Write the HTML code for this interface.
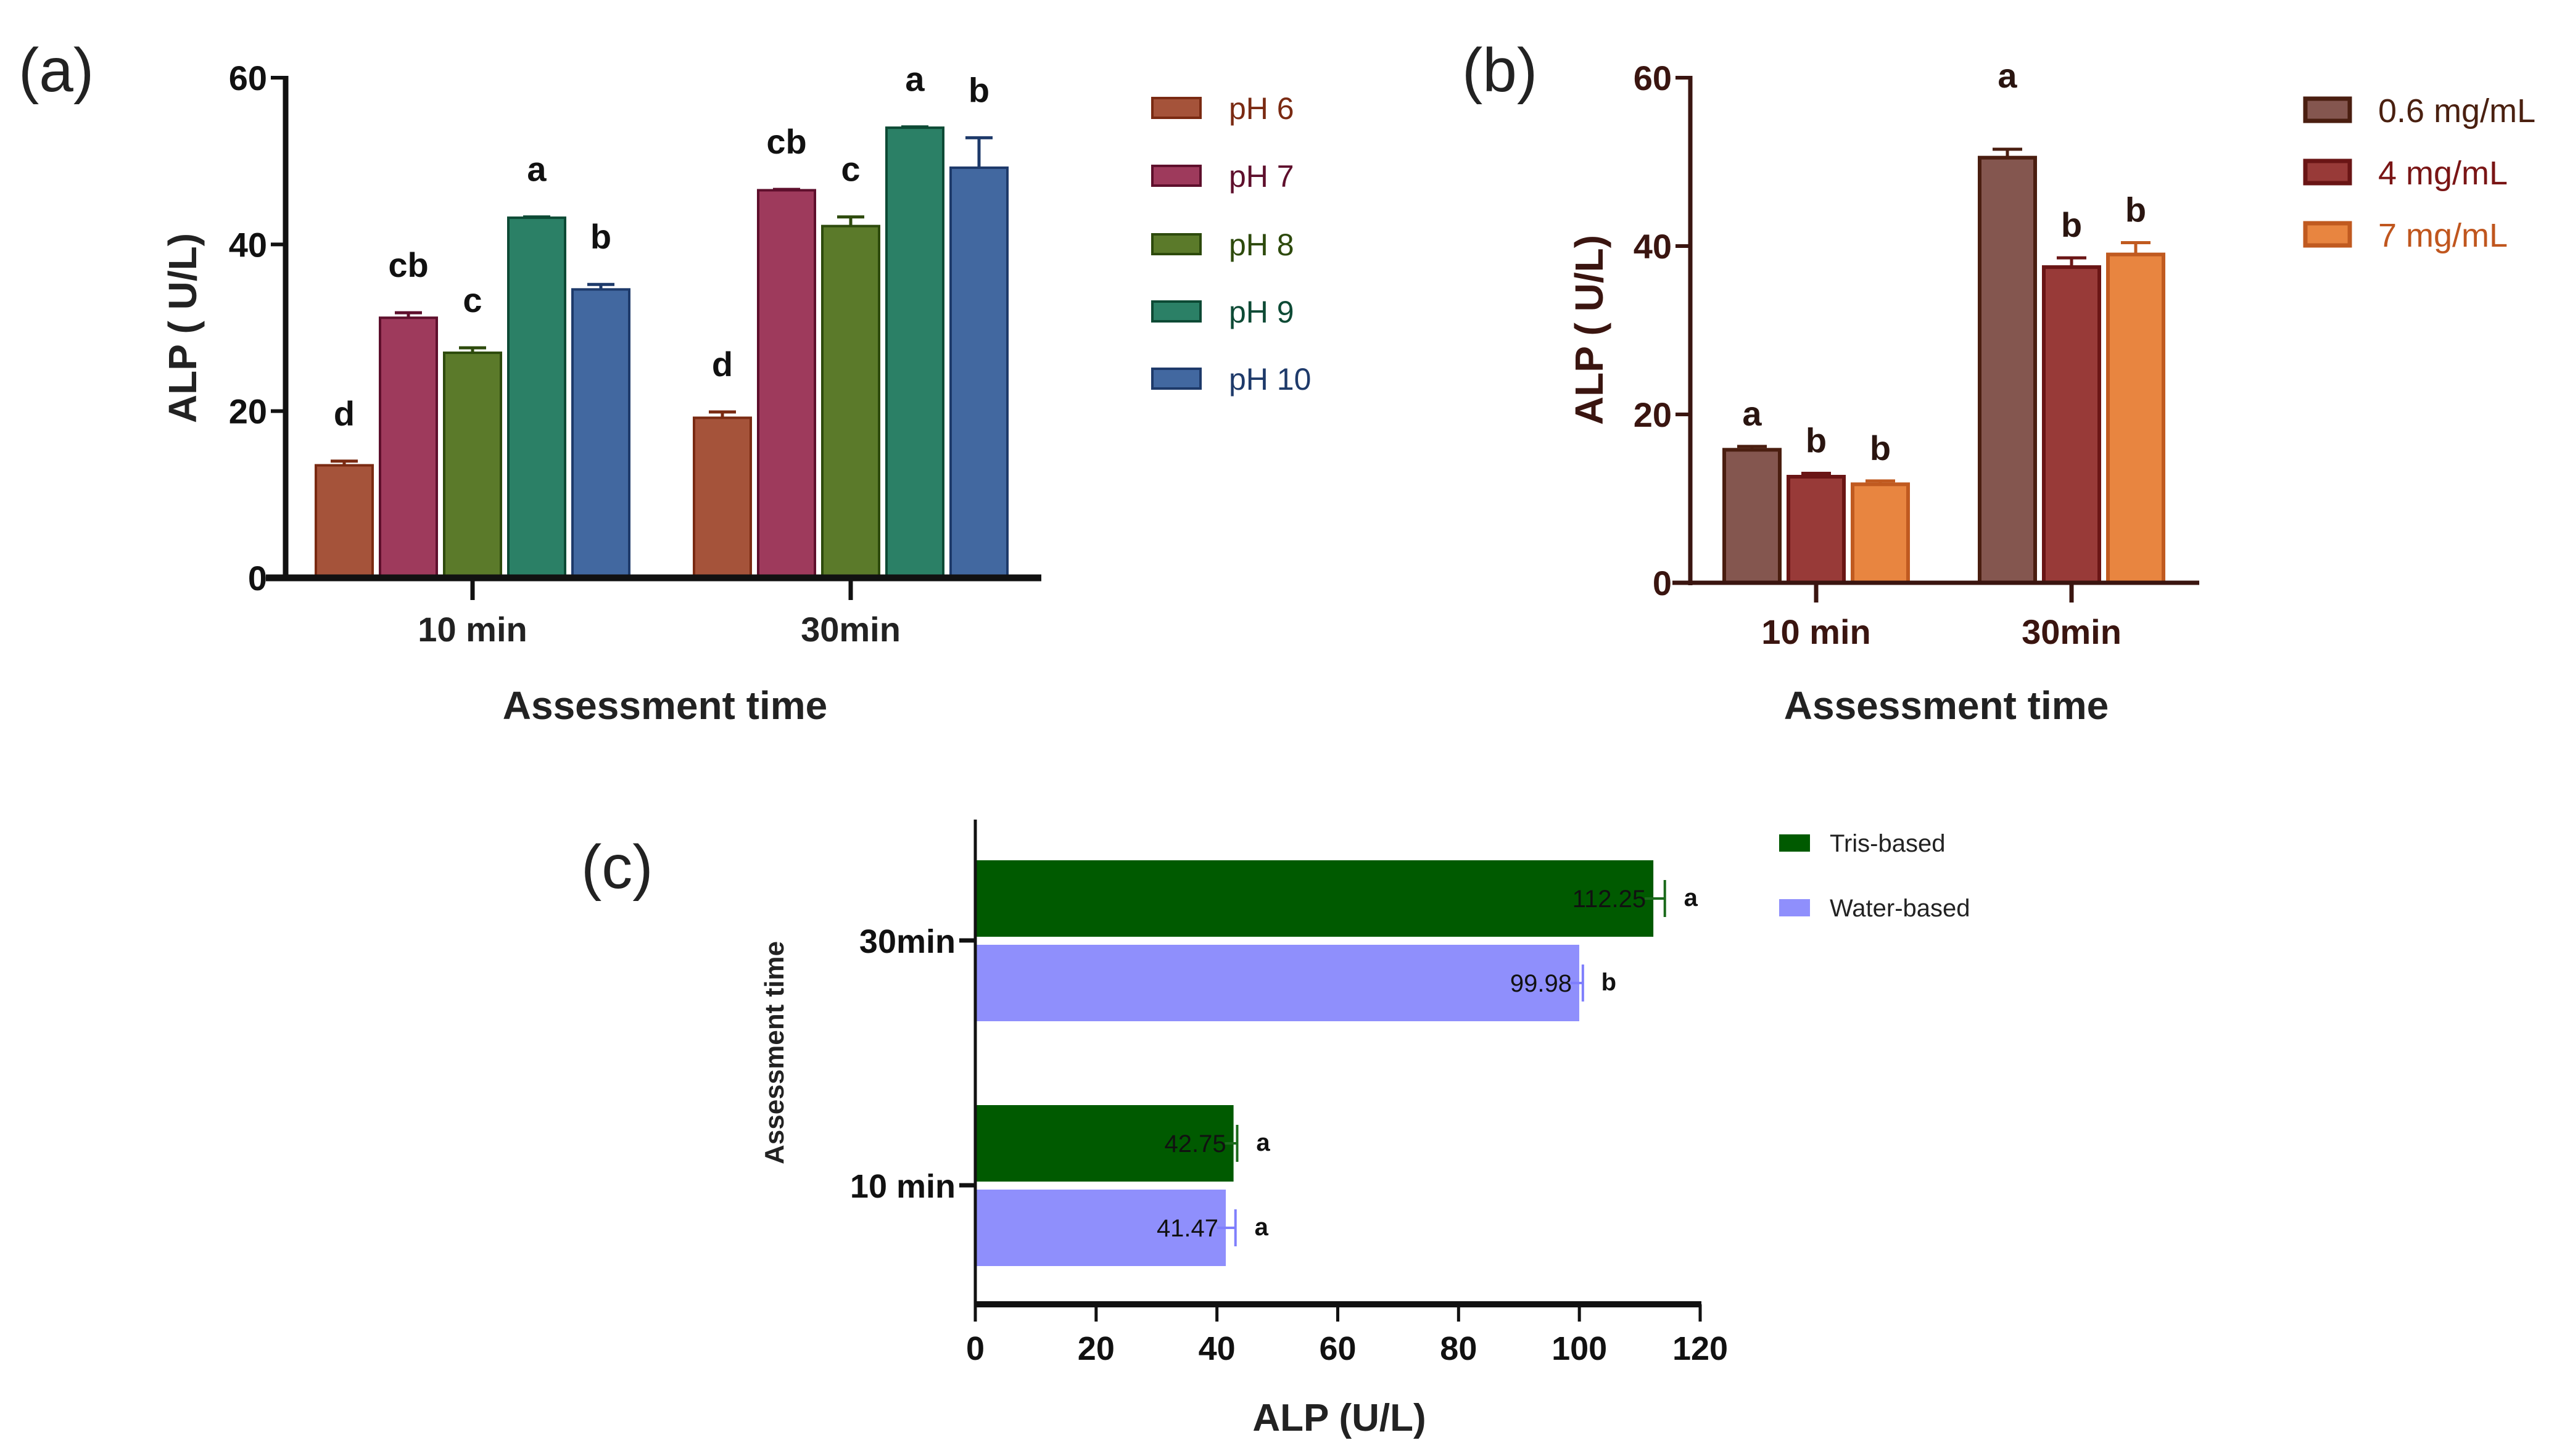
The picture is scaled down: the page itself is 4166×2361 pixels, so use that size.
<!DOCTYPE html>
<html><head><meta charset="utf-8">
<style>
html,body{margin:0;padding:0;background:#fff;}
svg{display:block;font-family:"Liberation Sans",Arial,sans-serif;}
</style></head>
<body>
<svg id="fig" width="4166" height="2361" viewBox="0 0 4166 2361" xmlns="http://www.w3.org/2000/svg">
<rect width="4166" height="2361" fill="#fff"/>
<text x="30" y="148" font-size="100" fill="#222">(a)</text>
<text x="2370" y="148" font-size="100" fill="#222">(b)</text>
<text x="942" y="1440" font-size="100" fill="#222">(c)</text>
</svg>
<script>
// ---- Panel A data ----
const aCategories = ["10 min", "30min"];
const aSeries = ["pH 6", "pH 7", "pH 8", "pH 9", "pH 10"];
const aValues10 = [13.5, 31.2, 27.0, 43.2, 34.6];
const aValues30 = [19.2, 46.5, 42.2, 54.0, 49.2];
const aErr10 = [0.5, 0.6, 0.6, 0.1, 0.6];
const aErr30 = [0.7, 0.1, 1.1, 0.1, 3.6];
const aLetters10 = ["d", "cb", "c", "a", "b"];
const aLetters30 = ["d", "cb", "c", "a", "b"];
const aTicks = [0, 20, 40, 60];
// ---- Panel B data ----
const bCategories = ["10 min", "30min"];
const bSeries = ["0.6 mg/mL", "4 mg/mL", "7 mg/mL"];
const bValues10 = [15.8, 12.6, 11.7];
const bValues30 = [50.5, 37.5, 39.0];
const bErr10 = [0.4, 0.4, 0.4];
const bErr30 = [1.0, 1.1, 1.4];
const bLetters10 = ["a", "b", "b"];
const bLetters30 = ["a", "b", "b"];
const bTicks = [0, 20, 40, 60];
// ---- Panel C data ----
const cCategories = ["30min", "10 min"];
const cSeries = ["Tris-based", "Water-based"];
const cTris = [112.25, 42.75];
const cWater = [99.98, 41.47];
const cTrisErr = [1.9, 0.6];
const cWaterErr = [0.6, 1.6];
const cTrisLetters = ["a", "a"];
const cWaterLetters = ["b", "a"];
const cTicks = [0, 20, 40, 60, 80, 100, 120];

const NS = "http://www.w3.org/2000/svg";
const svg = document.getElementById("fig");
function mk(tag, attrs, parent) {
  const e = document.createElementNS(NS, tag);
  for (const k in attrs) e.setAttribute(k, attrs[k]);
  (parent || svg).appendChild(e);
  return e;
}
function txt(str, attrs, parent) { const e = mk("text", attrs, parent); e.textContent = str; return e; }

// ===== Panel A =====
(function(){
  const ax = 463, y0 = 937, y60 = 126;
  const y = v => y0 - (v / 60) * (y0 - y60);
  const groupCenters = [766, 1379];
  const step = 104, bw = 92;
  const fills = ["#a5533a", "#9e3a5c", "#5b7a2a", "#2b8066", "#4268a0"];
  const strokes = ["#7a2a12", "#5e0f2c", "#2d4a0c", "#0d4a35", "#1e3a6a"];
  const tcol = ["#7a2a12", "#5e0f2c", "#2d4a0c", "#0d4a35", "#1e3a6a"];
  const g = mk("g", {});
  
  
  const vals = [aValues10, aValues30], errs = [aErr10, aErr30], lets = [aLetters10, aLetters30];
  aCategories.forEach((c, ci) => {
    aSeries.forEach((s, si) => {
      const cx = groupCenters[ci] + (si - 2) * step;
      const v = vals[ci][si], top = y(v);
      const r = mk("rect", {x: cx - bw/2, y: top, width: bw, height: y0 - top, fill: fills[si], stroke: strokes[si], "stroke-width": 4}, g);
      
      
      const et = y(v + errs[ci][si]);
      const e = mk("path", {d: `M${cx},${top} V${et} M${cx-22},${et} H${cx+22}`, stroke: strokes[si], "stroke-width": 5, fill: "none"}, g);
      
      
      const l = txt(lets[ci][si], {x: cx, y: et - 58, "font-size": 56, "font-weight": "bold", "text-anchor": "middle", fill: "#111"}, g);
      
      
    });
    const tk = mk("line", {x1: groupCenters[ci], x2: groupCenters[ci], y1: y0, y2: y0 + 36, stroke: "#111", "stroke-width": 7}, g);
    
    
    const cl = txt(c, {x: groupCenters[ci], y: 1040, "font-size": 56, "font-weight": "bold", "text-anchor": "middle", fill: "#222"}, g);
    
    
  });
  aTicks.forEach(t => {
    const tl = mk("line", {x1: ax - 24, x2: ax, y1: y(t), y2: y(t), stroke: "#111", "stroke-width": 6}, g);
    
    
    const tt = txt(String(t), {x: ax - 30, y: y(t) + 20, "font-size": 56, "font-weight": "bold", "text-anchor": "end", fill: "#111"}, g);
    
    
  });
  const ya = mk("line", {x1: ax, x2: ax, y1: y60 - 3, y2: y0 + 5, stroke: "#111", "stroke-width": 9}, g);
  
  
  const xa = mk("line", {x1: 431, x2: 1688, y1: y0, y2: y0, stroke: "#111", "stroke-width": 11}, g);
  
  
  const yt = txt("ALP ( U/L)", {x: 0, y: 0, "font-size": 64, "font-weight": "bold", "text-anchor": "middle", fill: "#222", transform: "translate(318,532) rotate(-90)"}, g);
  
  
  const xt = txt("Assessment time", {x: 1078, y: 1166, "font-size": 64, "font-weight": "bold", "text-anchor": "middle", fill: "#222"}, g);
  
  
  const rows = [175, 285, 396, 505, 614];
  aSeries.forEach((s, si) => {
    const lr = mk("rect", {x: 1868, y: rows[si] - 16, width: 78, height: 32, fill: fills[si], stroke: strokes[si], "stroke-width": 4}, g);
    
    
    const lt = txt(s, {x: 1992, y: rows[si] + 18, "font-size": 50, fill: tcol[si]}, g);
    
    
  });
})();

// ===== Panel B =====
(function(){
  const ax = 2740, y0 = 945, y60 = 126;
  const y = v => y0 - (v / 60) * (y0 - y60);
  const groupCenters = [2944, 3358];
  const step = 104, bw = 90;
  const fills = ["#84564f", "#983a38", "#e88540"];
  const strokes = ["#4a1e10", "#6a1515", "#c05a20"];
  const tcol = ["#4a2010", "#7a1515", "#c0561e"];
  const axc = "#3a1510";
  const g = mk("g", {});
  
  
  const vals = [bValues10, bValues30], errs = [bErr10, bErr30], lets = [bLetters10, bLetters30];
  bCategories.forEach((c, ci) => {
    bSeries.forEach((s, si) => {
      const cx = groupCenters[ci] + (si - 1) * step;
      const v = vals[ci][si], top = y(v);
      const r = mk("rect", {x: cx - bw/2, y: top, width: bw, height: y0 - top, fill: fills[si], stroke: strokes[si], "stroke-width": 6}, g);
      
      
      const et = y(v + errs[ci][si]);
      const e = mk("path", {d: `M${cx},${top} V${et} M${cx-24},${et} H${cx+24}`, stroke: strokes[si], "stroke-width": 5, fill: "none"}, g);
      
      
      const lift = (ci === 1 && si === 0) ? 100 : 34;
      const l = txt(lets[ci][si], {x: cx, y: et - lift, "font-size": 56, "font-weight": "bold", "text-anchor": "middle", fill: "#2a1510"}, g);
      
      
    });
    const tk = mk("line", {x1: groupCenters[ci], x2: groupCenters[ci], y1: y0, y2: y0 + 32, stroke: axc, "stroke-width": 7}, g);
    
    
    const cl = txt(c, {x: groupCenters[ci], y: 1044, "font-size": 56, "font-weight": "bold", "text-anchor": "middle", fill: axc}, g);
    
    
  });
  bTicks.forEach(t => {
    const tl = mk("line", {x1: ax - 24, x2: ax, y1: y(t), y2: y(t), stroke: axc, "stroke-width": 6}, g);
    
    
    const tt = txt(String(t), {x: ax - 30, y: y(t) + 20, "font-size": 56, "font-weight": "bold", "text-anchor": "end", fill: axc}, g);
    
    
  });
  const ya = mk("line", {x1: ax, x2: ax, y1: y60 - 3, y2: y0 + 4, stroke: axc, "stroke-width": 7}, g);
  
  
  const xa = mk("line", {x1: 2711, x2: 3565, y1: y0, y2: y0, stroke: axc, "stroke-width": 7}, g);
  
  
  const yt = txt("ALP ( U/L)", {x: 0, y: 0, "font-size": 64, "font-weight": "bold", "text-anchor": "middle", fill: axc, transform: "translate(2598,535) rotate(-90)"}, g);
  
  
  const xt = txt("Assessment time", {x: 3155, y: 1166, "font-size": 64, "font-weight": "bold", "text-anchor": "middle", fill: "#222"}, g);
  
  
  const rows = [178, 279, 380];
  bSeries.forEach((s, si) => {
    const lr = mk("rect", {x: 3737, y: rows[si] - 18, width: 72, height: 36, fill: fills[si], stroke: strokes[si], "stroke-width": 7}, g);
    
    
    const lt = txt(s, {x: 3855, y: rows[si] + 20, "font-size": 54, fill: tcol[si]}, g);
    
    
  });
})();

// ===== Panel C =====
(function(){
  const x0 = 1581, x120 = 2756, yTop = 1329, yAx = 2115;
  const x = v => x0 + (v / 120) * (x120 - x0);
  const catCenters = [1525, 1922];
  const bh = 124;
  const fills = ["#005a00", "#8f8ffc"];
  const estroke = ["#1a6a1a", "#7f7ffc"];
  const g = mk("g", {});
  
  
  const sets = [cTris, cWater], errs = [cTrisErr, cWaterErr], lets = [cTrisLetters, cWaterLetters];
  cCategories.forEach((c, ci) => {
    [0, 1].forEach(si => {
      const top = si === 0 ? catCenters[ci] - 6 - bh : catCenters[ci] + 7;
      const cy = top + bh / 2;
      const v = sets[si][ci];
      const r = mk("rect", {x: x0, y: top, width: x(v) - x0, height: bh, fill: fills[si]}, g);
      
      
      const ex = x(v + errs[si][ci]);
      const e = mk("path", {d: `M${x(v) - 14},${cy} H${ex} M${ex},${cy-30} V${cy+30}`, stroke: estroke[si], "stroke-width": 4, fill: "none"}, g);
      
      
      const vl = txt(v.toFixed(2), {x: x(v) - 12, y: cy + 14, "font-size": 40, "text-anchor": "end", fill: "#111"}, g);
      
      
      const l = txt(lets[si][ci], {x: ex + 42, y: cy + 12, "font-size": 40, "font-weight": "bold", "text-anchor": "middle", fill: "#111"}, g);
      
      
    });
    const tk = mk("line", {x1: x0 - 26, x2: x0, y1: catCenters[ci], y2: catCenters[ci], stroke: "#111", "stroke-width": 7}, g);
    
    
    const cl = txt(c, {x: x0 - 32, y: catCenters[ci] + 20, "font-size": 54, "font-weight": "bold", "text-anchor": "end", fill: "#111"}, g);
    
    
  });
  cTicks.forEach(t => {
    const tl = mk("line", {x1: x(t), x2: x(t), y1: yAx, y2: yAx + 28, stroke: "#111", "stroke-width": 5}, g);
    
    
    const tt = txt(String(t), {x: x(t), y: yAx + 90, "font-size": 54, "font-weight": "bold", "text-anchor": "middle", fill: "#111"}, g);
    
    
  });
  const ya = mk("line", {x1: x0, x2: x0, y1: yTop, y2: yAx + 3, stroke: "#111", "stroke-width": 5}, g);
  
  
  const xa = mk("line", {x1: x0, x2: x120 + 2, y1: yAx, y2: yAx, stroke: "#111", "stroke-width": 10}, g);
  
  
  const yt = txt("Assessment time", {x: 0, y: 0, "font-size": 44, "font-weight": "bold", "text-anchor": "middle", fill: "#222", transform: "translate(1270,1707) rotate(-90)"}, g);
  
  
  const xt = txt("ALP (U/L)", {x: 2171, y: 2320, "font-size": 62, "font-weight": "bold", "text-anchor": "middle", fill: "#222"}, g);
  
  
  const rows = [1367, 1472];
  cSeries.forEach((s, si) => {
    const lr = mk("rect", {x: 2884, y: rows[si] - 14, width: 50, height: 28, fill: fills[si]}, g);
    
    
    const lt = txt(s, {x: 2966, y: rows[si] + 14, "font-size": 40, fill: "#222"}, g);
    
    
  });
})();
</script>
</body></html>
